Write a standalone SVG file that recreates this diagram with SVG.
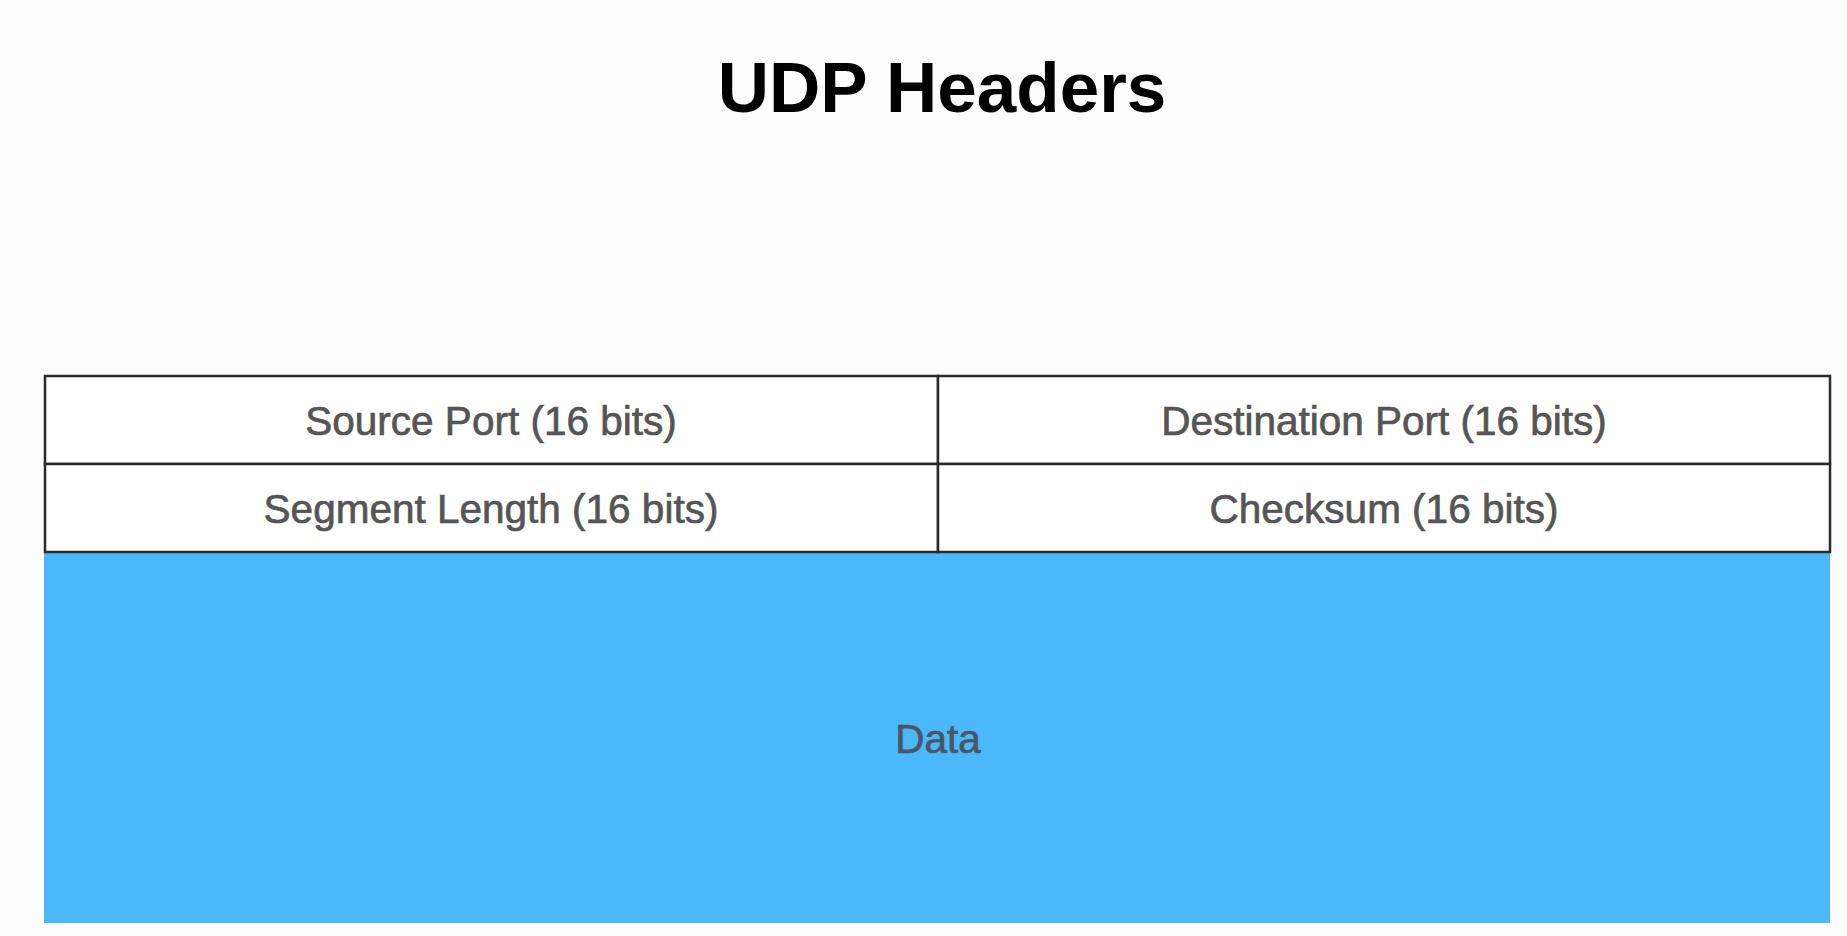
<svg xmlns="http://www.w3.org/2000/svg" width="1847" height="936" viewBox="0 0 1847 936">
  <style>
    .cell { fill: #ffffff; stroke: #2a2a2a; stroke-width: 2.5; }
    .lbl { font-family: "Liberation Sans", Arial, Helvetica, sans-serif; font-size: 40.5px; fill: #555555; stroke: #555555; stroke-width: 0.7; text-anchor: middle; }
    .title { font-family: "Liberation Sans", Arial, Helvetica, sans-serif; font-size: 71px; font-weight: bold; fill: #000000; text-anchor: middle; }
  </style>
  <rect x="0" y="0" width="1847" height="936" fill="#fdfdfd"/>
  <g id="title">
    <text class="title" x="942" y="112">UDP Headers</text>
  </g>
  <g id="data">
    <rect x="44" y="552" width="1786" height="371" fill="#4bb8fb"/>
    <text class="lbl" x="938" y="753" style="fill:#4a5663;stroke:#4a5663">Data</text>
  </g>
  <g id="source-port">
    <rect class="cell" x="45" y="376" width="893" height="88"/>
    <text class="lbl" x="491" y="435">Source Port (16 bits)</text>
  </g>
  <g id="destination-port">
    <rect class="cell" x="938" y="376" width="892" height="88"/>
    <text class="lbl" x="1384" y="435">Destination Port (16 bits)</text>
  </g>
  <g id="segment-length">
    <rect class="cell" x="45" y="464" width="893" height="88"/>
    <text class="lbl" x="491" y="523">Segment Length (16 bits)</text>
  </g>
  <g id="checksum">
    <rect class="cell" x="938" y="464" width="892" height="88"/>
    <text class="lbl" x="1384" y="523">Checksum (16 bits)</text>
  </g>
  <g id="connectors"/>
</svg>
